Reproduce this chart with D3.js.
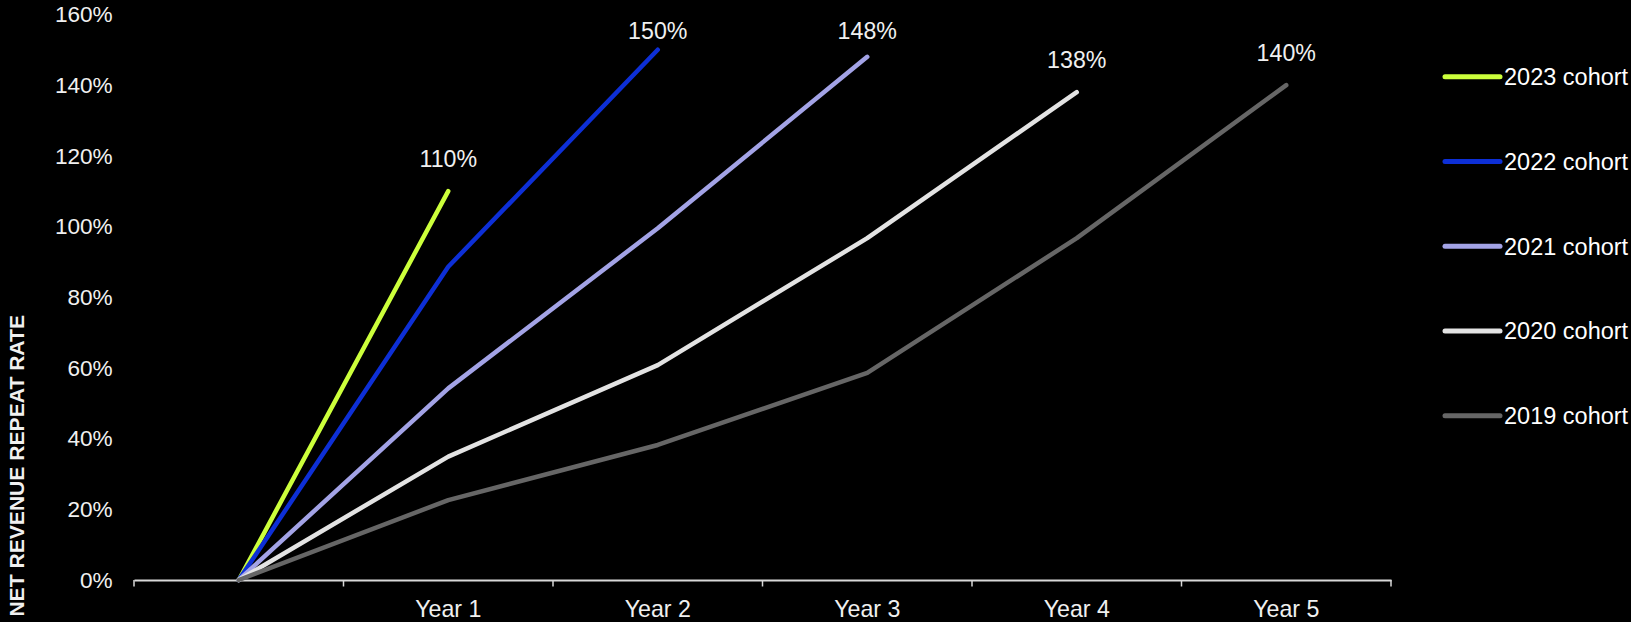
<!DOCTYPE html>
<html>
<head>
<meta charset="utf-8">
<script src="https://cdn.jsdelivr.net/npm/d3@7"></script>
<style>
  html, body { margin: 0; padding: 0; background: #000; }
  svg { display: block; }
  text { font-family: Arial, "Liberation Sans", sans-serif; }
</style>
</head>
<body>
<svg id="chart" width="1631" height="622"></svg>
<script>
// ---- data ----
const categories = ["", "Year 1", "Year 2", "Year 3", "Year 4", "Year 5"];
const yTicks = [0, 20, 40, 60, 80, 100, 120, 140, 160];
const seriesNames = ["2023 cohort", "2022 cohort", "2021 cohort", "2020 cohort", "2019 cohort"];
const cohort2023 = [0, 110];
const cohort2022 = [0, 88.6, 150];
const cohort2021 = [0, 54.2, 99.5, 148];
const cohort2020 = [0, 34.9, 60.8, 96.7, 138];
const cohort2019 = [0, 22.6, 38.2, 58.6, 96.7, 140];
const seriesColors = ["#ccff3b", "#0d2fd6", "#a3a3e6", "#e3e3e3", "#666666"];
const yTitle = "NET REVENUE REPEAT RATE";

const seriesValues = [cohort2023, cohort2022, cohort2021, cohort2020, cohort2019];
const series = seriesNames.map((n, i) => ({ name: n, values: seriesValues[i], color: seriesColors[i] }));

// ---- layout ----
const svg = d3.select("#chart");
const x = d3.scaleBand().domain(categories).range([134, 1391]).padding(0);
const y = d3.scaleLinear().domain([0, 160]).range([580, 14.4]);
const cx = c => x(c) + x.bandwidth() / 2;
const textCol = "#f0f0f0";
const fs = 22.6;
const fsX = 23.2;

// y axis labels
const yAxis = d3.axisLeft(y).tickValues(yTicks).tickSize(0).tickPadding(21.3).tickFormat(d => d + "%");
const gy = svg.append("g").attr("transform", "translate(134,0)").call(yAxis);
gy.select(".domain").remove();
gy.selectAll("text").attr("fill", textCol).style("font-size", fs + "px")
  .style("font-family", "Arial, 'Liberation Sans', sans-serif");

// x axis
const xAxis = d3.axisBottom(x).tickSize(0).tickPadding(20.3);
const gx = svg.append("g").attr("transform", "translate(0,580)").call(xAxis);
gx.select(".domain").attr("stroke", "#d9d9d9").attr("stroke-width", 2);
gx.selectAll("text").attr("fill", textCol).style("font-size", fsX + "px")
  .style("font-family", "Arial, 'Liberation Sans', sans-serif");
// tick marks at band edges
const edges = d3.range(categories.length + 1).map(i => x.range()[0] + i * x.step());
gx.selectAll(".edge").data(edges).enter().append("line")
  .attr("class", "edge")
  .attr("x1", d => d).attr("x2", d => d)
  .attr("y1", 0).attr("y2", 6.5)
  .attr("stroke", "#d9d9d9").attr("stroke-width", 1.5);

// y axis title
svg.append("text")
  .attr("transform", "translate(23.5,315) rotate(-90)")
  .attr("text-anchor", "end")
  .attr("fill", textCol)
  .style("font-size", "21.1px")
  .style("font-weight", "bold")
  .text(yTitle);

// lines
const line = d3.line()
  .x((d, i) => cx(categories[i]))
  .y(d => y(d));

svg.append("g").selectAll("path").data(series).enter().append("path")
  .attr("d", d => line(d.values))
  .attr("fill", "none")
  .attr("stroke", d => d.color)
  .attr("stroke-width", 4.5)
  .attr("stroke-linecap", "round")
  .attr("stroke-linejoin", "round");

// end labels
const labelTopLimit = y(160) + 24.6;
svg.append("g").selectAll("text").data(series).enter().append("text")
  .attr("x", d => cx(categories[d.values.length - 1]))
  .attr("y", d => Math.max(y(d.values[d.values.length - 1]) - 24, labelTopLimit))
  .attr("text-anchor", "middle")
  .attr("fill", textCol)
  .style("font-size", fsX + "px")
  .text(d => d.values[d.values.length - 1] + "%");

// legend
const legend = svg.append("g").attr("transform", "translate(1445,76.7)");
const items = legend.selectAll("g").data(series).enter().append("g")
  .attr("transform", (d, i) => `translate(0,${i * 84.75})`);
items.append("line")
  .attr("x1", 0).attr("x2", 55).attr("y1", 0).attr("y2", 0)
  .attr("stroke", d => d.color).attr("stroke-width", 5).attr("stroke-linecap", "round");
items.append("text")
  .attr("x", 59).attr("y", 0).attr("dy", "0.36em")
  .attr("fill", "#ffffff")
  .style("font-size", "23.5px")
  .text(d => d.name);
</script>
</body>
</html>
